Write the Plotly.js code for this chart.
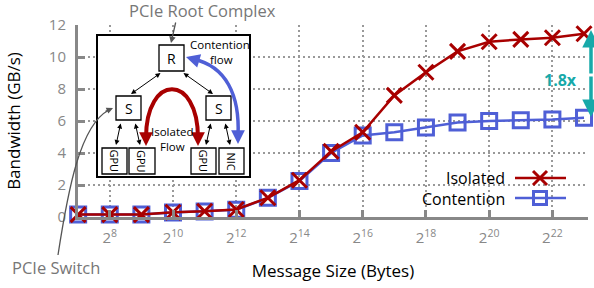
<!DOCTYPE html>
<html><head><meta charset="utf-8">
<script src="https://cdn.plot.ly/plotly-3.0.1.min.js"></script>
<style>html,body{margin:0;padding:0;background:#fff;}#chart{width:594px;height:288px;}</style>
</head><body><div id="chart"></div>
<script>
// ---- data ----
const messageSize = [128,256,512,1024,2048,4096,8192,16384,32768,65536,131072,262144,524288,1048576,2097152,4194304,8388608];
const isolated   = [0.15,0.15,0.15,0.30,0.36,0.47,1.20,2.30,4.10,5.30,7.60,9.05,10.35,10.95,11.10,11.20,11.45];
const contention = [0.15,0.15,0.15,0.28,0.35,0.45,1.20,2.25,4.00,5.10,5.30,5.60,5.90,6.00,6.05,6.10,6.20];
const xTickVals  = [256,1024,4096,16384,65536,262144,1048576,4194304];
const xTickText  = ['2<sup>8</sup>','2<sup>10</sup>','2<sup>12</sup>','2<sup>14</sup>','2<sup>16</sup>','2<sup>18</sup>','2<sup>20</sup>','2<sup>22</sup>'];
const yTickVals  = [0,2,4,6,8,10,12];
const seriesNames = ['Isolated','Contention'];
const ratioLabel = '1.8x';

// ---- style ----
const RED = '#a80000', BLUE = '#4f5fd6', TEAL = '#17a9a9', GRAY = '#888888';
const FONT = 'Open Sans, DejaVu Sans, sans-serif';
const W = 594, H = 288;
const L = 78, R = 588, T = 25, B = 217;
const px = x => (x - L) / (R - L);
const py = y => (B - y) / (B - T);
function path(cmds){ // cmds in pixels, converted to paper units
  return cmds.map(c => c[0] + ' ' + c.slice(1).map((v,i)=> i%2===0 ? px(v).toFixed(5) : py(v).toFixed(5)).join(' ')).join(' ');
}

const traces = [
  {x: messageSize, y: contention, name: seriesNames[1], type:'scatter', mode:'lines+markers',
   line:{color:BLUE, width:2.5}, marker:{symbol:'square-open', size:15, color:BLUE, line:{width:3, color:BLUE}}, cliponaxis:false},
  {x: messageSize, y: isolated, name: seriesNames[0], type:'scatter', mode:'lines+markers',
   line:{color:RED, width:2.5}, marker:{symbol:'x-thin-open', size:15, color:RED, line:{width:3, color:RED}}, cliponaxis:false}
];

const shapes = [];
const ann = [];
function box(x0,y0,x1,y1,w){ shapes.push({type:'rect', xref:'paper', yref:'paper', x0:px(x0), x1:px(x1), y0:py(y1), y1:py(y0), line:{color:'black', width:w||1.3}, fillcolor:'white', layer:'above'}); }
function txt(x,y,s,size,opts){ ann.push(Object.assign({x:px(x), y:py(y), xref:'paper', yref:'paper', text:s, showarrow:false, font:{family:FONT, size:size, color:'black'}, xanchor:'center', yanchor:'middle', borderpad:0}, opts||{})); }
function arrow(x1,y1,x2,y2,color,width,size,side){ // tail (x1,y1) -> head (x2,y2)
  ann.push({x:px(x2), y:py(y2), xref:'paper', yref:'paper', ax:x1-x2, ay:y1-y2, text:'', showarrow:true,
    arrowhead:2, arrowsize:size||1, arrowwidth:width||1, arrowcolor:color||'black', arrowside:side||'end', standoff:0, startstandoff:0});
}
function curve(cmds,color,width){ shapes.push({type:'path', xref:'paper', yref:'paper', path:path(cmds), line:{color:color, width:width}, layer:'above'}); }

// inset diagram
box(97,35,250,177,2);
box(159,45,184,71); txt(171.5,58,'R',14);
box(116,96,141,120); txt(128.5,108,'S',14);
box(206,96,231,120); txt(218.5,108,'S',14);
const leaves = [[102,127,'GPU'],[129,155,'GPU'],[191,216,'GPU'],[219,244,'NIC']];
leaves.forEach(l => { box(l[0],148,l[1],174); txt((l[0]+l[1])/2,161,l[2],11,{textangle:90}); });
arrow(162,72,131,94,'black',1,1,'end+start');
arrow(182,72,213,94,'black',1,1,'end+start');
arrow(121,122,116,145,'black',1,1,'end+start');
arrow(135,122,140,145,'black',1,1,'end+start');
arrow(211,122,206,145,'black',1,1,'end+start');
arrow(225,122,230,145,'black',1,1,'end+start');
// red isolated flow arc
curve([['M',146,138],['C',146,73,198,73,198,138]],RED,4);
arrow(146,136,146,146,RED,2.5,1.1);
arrow(198,136,198,146,RED,2.5,1.1);
// blue contention flow arc
curve([['M',193,59],['C',226,66,240,95,238,136]],BLUE,3.5);
arrow(196,60,186,57,BLUE,2.5,1.1);
arrow(238,134,238,144,BLUE,2.5,1.1);
txt(220,45,'Contention',11.5); txt(221,60,'flow',11.5);
txt(172,131,'Isolated',11.5); txt(172,146,'Flow',11.5);
// callouts
txt(202,10,'PCIe Root Complex',16.5,{font:{family:FONT,size:16.5,color:'#777'}});
arrow(176,21,171,43,'#555',1.3,1);
txt(56,267,'PCIe Switch',16.5,{font:{family:FONT,size:16.5,color:'#777'}});
curve([['M',58,255],['C',68,190,80,125,109,110]],'#555',1.3);
arrow(104,112,113,108,'#555',1.3,1);
// ratio
arrow(591,75,591,30,TEAL,3.5,1);
arrow(591,75,591,117,TEAL,3.5,1);
txt(560,80,'<b>'+ratioLabel+'</b>',16,{font:{family:FONT,size:16,color:TEAL}});
// custom legend
txt(506,178,seriesNames[0],16,{xanchor:'right'});
txt(506,199,seriesNames[1],16,{xanchor:'right'});
shapes.push({type:'line', xref:'paper', yref:'paper', x0:px(515), x1:px(566), y0:py(178), y1:py(178), line:{color:RED,width:2.5}, layer:'above'});
shapes.push({type:'line', xref:'paper', yref:'paper', x0:px(533), x1:px(547), y0:py(171), y1:py(185), line:{color:RED,width:3}, layer:'above'});
shapes.push({type:'line', xref:'paper', yref:'paper', x0:px(533), x1:px(547), y0:py(185), y1:py(171), line:{color:RED,width:3}, layer:'above'});
shapes.push({type:'line', xref:'paper', yref:'paper', x0:px(515), x1:px(566), y0:py(198), y1:py(198), line:{color:BLUE,width:2.5}, layer:'above'});
shapes.push({type:'rect', xref:'paper', yref:'paper', x0:px(533.5), x1:px(546.5), y0:py(204.5), y1:py(191.5), line:{color:BLUE,width:3}, fillcolor:'rgba(0,0,0,0)', layer:'above'});

const layout = {
  width:W, height:H,
  margin:{l:L, r:W-R, t:T, b:H-B, pad:0},
  paper_bgcolor:'white', plot_bgcolor:'white',
  showlegend:false,
  font:{family:FONT, size:15, color:GRAY},
  xaxis:{type:'log', range:[6.995*Math.log10(2), 23.126*Math.log10(2)], tickvals:xTickVals, ticktext:xTickText,
    showline:true, linecolor:GRAY, linewidth:3, ticks:'inside', ticklen:7, tickwidth:3, tickcolor:GRAY,
    showgrid:true, gridcolor:'#999', gridwidth:2, griddash:'2px,3px', zeroline:false,
    tickfont:{family:FONT, size:15, color:GRAY}, ticklabelstandoff:5,
    title:{text:'Message Size (Bytes)', font:{family:FONT, size:17, color:'black'}, standoff:20}},
  yaxis:{range:[0,12], tickvals:yTickVals, showline:true, linecolor:GRAY, linewidth:3, ticks:'inside', ticklen:7, tickwidth:3, tickcolor:GRAY,
    showgrid:true, gridcolor:'#999', gridwidth:2, griddash:'2px,3px', zeroline:false,
    tickfont:{family:FONT, size:15, color:GRAY}, ticklabelstandoff:6,
    title:{text:'Bandwidth (GB/s)', font:{family:FONT, size:17, color:'black'}, standoff:24}},
  shapes:shapes, annotations:ann
};
Plotly.newPlot('chart', traces, layout, {staticPlot:true, displayModeBar:false});
</script></body></html>
